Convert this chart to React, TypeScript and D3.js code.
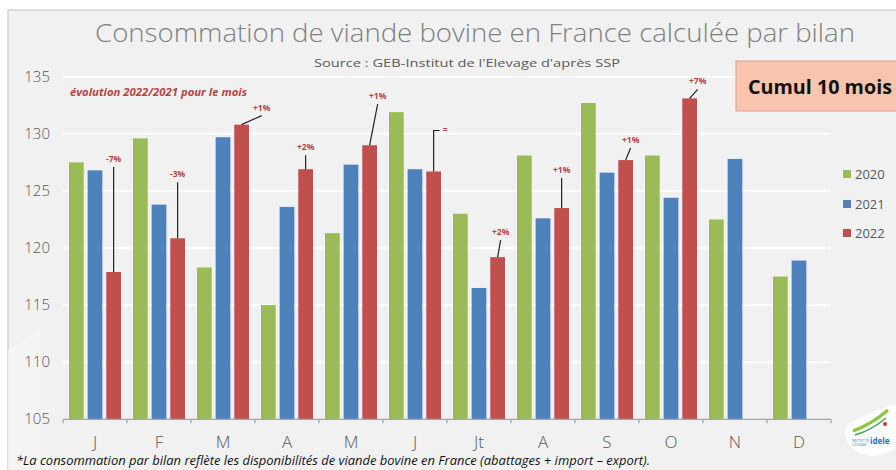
import React from "react";
import * as d3 from "d3";

const months = ["J", "F", "M", "A", "M ", "J ", "Jt", "A ", "S", "O", "N", "D"];
const monthLabels = ["J", "F", "M", "A", "M", "J", "Jt", "A", "S", "O", "N", "D"];
const seriesNames = ["2020", "2021", "2022"];
const values2020 = [127.5, 129.6, 118.3, 115.0, 121.3, 131.9, 123.0, 128.1, 132.7, 128.1, 122.5, 117.5];
const values2021 = [126.8, 123.8, 129.7, 123.6, 127.3, 126.9, 116.5, 122.6, 126.6, 124.4, 127.8, 118.9];
const values2022: (number | null)[] = [117.9, 120.85, 130.8, 126.9, 129.0, 126.7, 119.2, 123.5, 127.7, 133.1, null, null];
const yTicks = [105, 110, 115, 120, 125, 130, 135];
const evolutionLabels = ["-7%", "-3%", "+1%", "+2%", "+1%", "=", "+2%", "+1%", "+1%", "+7%"];

// layout of annotation labels (px offsets from red bar top)
const annotLayout = [
  { dx: 0, gap: 113, kind: "v" },
  { dx: 0, gap: 64, kind: "v" },
  { dx: 20, gap: 17, kind: "s" },
  { dx: 0, gap: 22, kind: "s" },
  { dx: 8, gap: 49, kind: "s" },
  { dx: 9, gap: 41, kind: "e" },
  { dx: 3, gap: 25, kind: "s" },
  { dx: 0, gap: 38, kind: "s" },
  { dx: 5, gap: 20, kind: "s" },
  { dx: 8, gap: 17, kind: "s" },
];

const colors = ["#9bbb59", "#4f81bd", "#c0504d"];

export default function App() {
  const W = 896, H = 470;
  const x = d3.scaleBand<string>().domain(months).range([63, 831]).paddingInner(0).paddingOuter(0);
  const bw = x.bandwidth();
  const xs = d3.scaleBand<string>().domain(seriesNames).range([6, bw - 6]).paddingInner(0.21).paddingOuter(0);
  const y = d3.scaleLinear().domain([105, 135]).range([419.3, 76.7]);
  const allSeries = [values2020, values2021, values2022];
  const tickXs = months.map((m) => x(m)!).concat([x(months[months.length - 1])! + bw]);

  const gray = "#595959";
  const annColor = "#b8433f";
  const lightFont = "'Open Sans', 'DejaVu Sans', sans-serif";

  return (
    <svg width={W} height={H} style={{ position: "absolute", left: 0, top: 0 }} xmlns="http://www.w3.org/2000/svg">
      <rect x={0} y={0} width={W} height={H} fill="#ffffff" />
      <rect x={8} y={10} width={W} height={H} fill="#f1f1f1" stroke="#c9c9c9" strokeWidth={1.2} />
      <path d="M8,350 L40,330 L40,470 L8,470 Z" fill="#f6f6f6" opacity={0.6} />

      {/* title */}
      <text x={475} y={42} textAnchor="middle" fontFamily={lightFont} fontWeight={300} fontSize={26} fill="#808080" textLength={760} lengthAdjust="spacingAndGlyphs">
        Consommation de viande bovine en France calculée par bilan
      </text>
      <text x={467} y={67} textAnchor="middle" fontFamily={lightFont} fontSize={11.5} fill={gray} textLength={306} lengthAdjust="spacingAndGlyphs">
        Source : GEB-Institut de l'Elevage d'après SSP
      </text>

      {/* gridlines */}
      {yTicks.slice(1).map((t) => (
        <line key={t} x1={63} x2={831} y1={y(t)} y2={y(t)} stroke="#ffffff" strokeWidth={1.5} />
      ))}

      {/* y labels */}
      {yTicks.map((t) => (
        <text key={t} x={50} y={y(t) + 5} textAnchor="end" fontFamily={lightFont} fontWeight={300} fontSize={15} fill={gray}>
          {t}
        </text>
      ))}

      {/* bars */}
      {allSeries.map((vals, si) =>
        vals.map((v, i) =>
          v == null ? null : (
            <rect
              key={`${si}-${i}`}
              x={x(months[i])! + xs(seriesNames[si])!}
              y={y(v)}
              width={xs.bandwidth()}
              height={y(105) - y(v)}
              fill={colors[si]}
            />
          )
        )
      )}

      {/* x axis */}
      <line x1={63} x2={831} y1={y(105)} y2={y(105)} stroke="#a6a6a6" strokeWidth={1.2} />
      {tickXs.map((tx, i) => (
        <line key={i} x1={tx} x2={tx} y1={y(105)} y2={y(105) + 4} stroke="#a6a6a6" strokeWidth={1.2} />
      ))}
      {months.map((m, i) => (
        <text key={m} x={x(m)! + bw / 2} y={448} textAnchor="middle" fontFamily={lightFont} fontWeight={300} fontSize={17} fill={gray}>
          {monthLabels[i]}
        </text>
      ))}

      {/* annotations */}
      <text x={70} y={96} fontFamily="'Open Sans', sans-serif" fontWeight="bold" fontStyle="italic" fontSize={10} fill={annColor} textLength={177} lengthAdjust="spacingAndGlyphs">
        évolution 2022/2021 pour le mois
      </text>
      {evolutionLabels.map((lab, i) => {
        const v = values2022[i]!;
        const cx = x(months[i])! + xs("2022")! + xs.bandwidth() / 2;
        const top = y(v);
        const L = annotLayout[i];
        const ly = top - L.gap;
        const lx = cx + L.dx;
        let line;
        if (L.kind === "e") {
          line = <polyline points={`${lx - 3},${ly} ${cx},${ly} ${cx},${top}`} fill="none" stroke="#222" strokeWidth={1.2} />;
        } else {
          line = <line x1={lx} y1={ly + 8} x2={cx} y2={top} stroke="#222" strokeWidth={1.2} />;
        }
        return (
          <g key={i}>
            {line}
            <text x={lx} y={ly + 3} textAnchor={L.kind === "e" ? "start" : "middle"} fontFamily="'Open Sans', sans-serif" fontWeight="bold" fontSize={8.5} fill={annColor}>
              {lab}
            </text>
          </g>
        );
      })}

      {/* cumul box */}
      <rect x={736} y={61} width={170} height={50} fill="#f9c4ad" stroke="#d9a08a" strokeWidth={1} />
      <text x={748} y={94} fontFamily="'Open Sans', sans-serif" fontWeight="bold" fontSize={20} fill="#111" textLength={144} lengthAdjust="spacingAndGlyphs">
        Cumul 10 mois
      </text>

      {/* legend */}
      {seriesNames.map((s, i) => (
        <g key={s}>
          <rect x={843} y={[170, 200, 229][i]} width={8} height={8} fill={colors[i]} />
          <text x={855} y={[179, 209, 238][i]} fontFamily={lightFont} fontSize={13} fill={gray}>
            {s}
          </text>
        </g>
      ))}

      {/* footnote */}
      <text x={16} y={465} fontFamily="'Open Sans', sans-serif" fontStyle="italic" fontSize={12.5} fill="#111" textLength={634} lengthAdjust="spacingAndGlyphs">
        *La consommation par bilan reflète les disponibilités de viande bovine en France (abattages + import – export).
      </text>

      {/* logo */}
      <g>
        <path d="M848,424 Q870,412 892,405 L896,405 L896,448 Q885,456 870,456 Q850,452 846,438 Q844,428 848,424 Z" fill="#ffffff" opacity={0.9} />
        <path d="M853,431 Q872,424 888,410" fill="none" stroke="#8dc63f" strokeWidth={3} />
        <path d="M855,435 Q872,430 886,418" fill="none" stroke="#3aa655" strokeWidth={1.5} />
        <circle cx={885} cy={424} r={2} fill="#e02d2d" />
        <text x={870} y={444} fontFamily="'Open Sans', sans-serif" fontWeight="bold" fontSize={8} fill="#1f6fc0">idele</text>
        <text x={852} y={442} fontFamily="'Open Sans', sans-serif" fontSize={3} fill="#1f6fc0">INSTITUT DE</text>
        <text x={852} y={446} fontFamily="'Open Sans', sans-serif" fontSize={3} fill="#1f6fc0">L'ÉLEVAGE</text>
      </g>
    </svg>
  );
}
